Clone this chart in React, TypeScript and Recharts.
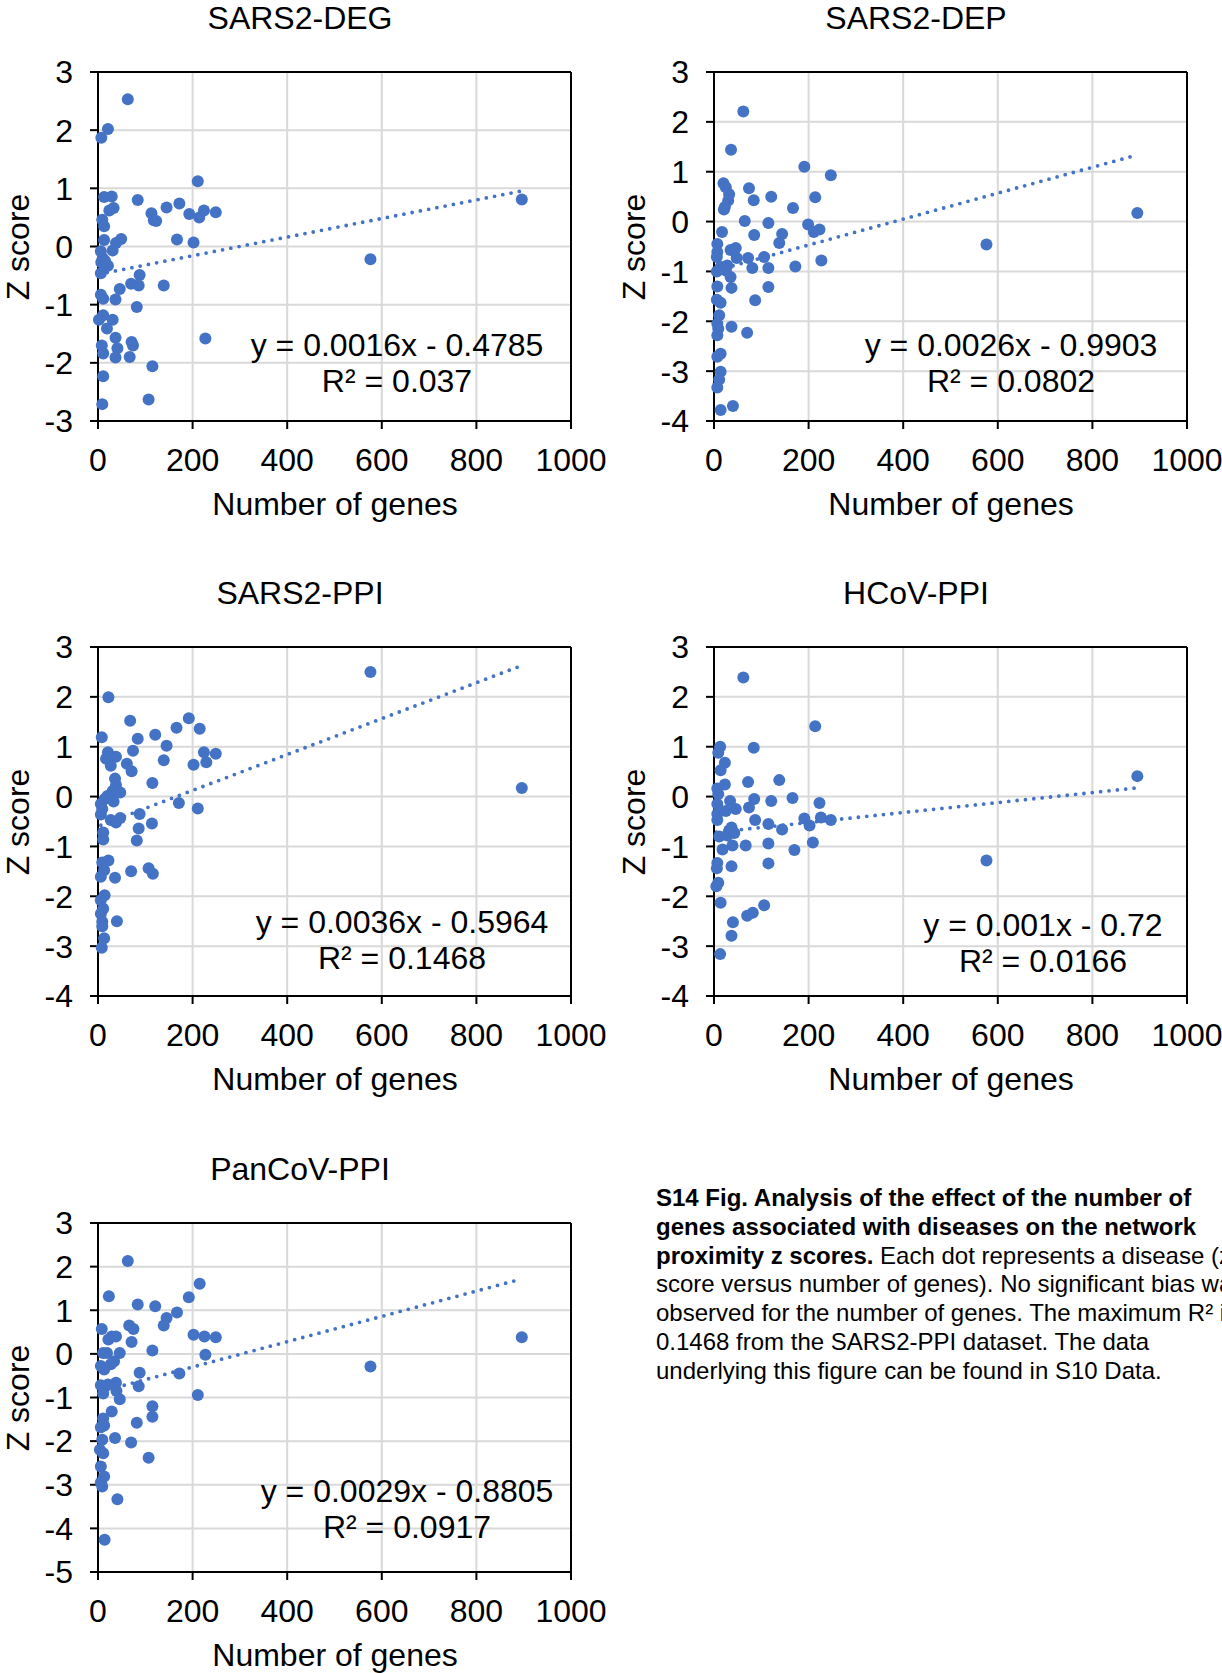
import React from 'react';
import { ScatterChart, Scatter, XAxis, YAxis, CartesianGrid, ReferenceLine } from 'recharts';

const FONT = "'Liberation Sans', Arial, sans-serif";
const BLUE = '#4472C4';
const GRID = '#d9d9d9';

const X_TICKS = [0, 200, 400, 600, 800, 1000];

// [number of genes, z score]
const degPoints = [
  [63, 2.53], [21, 2.02], [7, 1.87], [211, 1.12], [13, 0.85], [29, 0.86], [84, 0.8], [24, 0.62], [33, 0.66], [9, 0.46],
  [13, 0.35], [145, 0.67], [172, 0.74], [113, 0.57], [118, 0.45], [123, 0.44], [193, 0.56], [214, 0.5], [224, 0.62], [249, 0.59],
  [167, 0.12], [202, 0.07], [13, 0.11], [49, 0.13], [38, 0.06], [31, -0.07], [6, -0.08], [10, -0.2], [21, -0.33], [7, -0.27],
  [15, -0.25], [6, -0.46], [88, -0.49], [70, -0.64], [86, -0.67], [139, -0.67], [46, -0.73], [6, -0.83], [11, -0.9], [37, -0.91],
  [82, -1.04], [11, -1.18], [2, -1.26], [31, -1.26], [19, -1.41], [37, -1.57], [41, -1.75], [71, -1.64], [74, -1.7], [8, -1.7],
  [11, -1.84], [37, -1.91], [67, -1.9], [115, -2.06], [227, -1.58], [11, -2.23], [107, -2.63], [9, -2.71], [576, -0.22], [896, 0.81],
];

const depPoints = [
  [62, 2.21], [36, 1.44], [191, 1.1], [247, 0.93], [20, 0.77], [25, 0.69], [32, 0.55], [30, 0.42], [21, 0.24], [23, 0.29],
  [74, 0.67], [84, 0.43], [121, 0.5], [214, 0.49], [167, 0.27], [65, 0.01], [115, -0.03], [199, -0.06], [211, -0.21], [223, -0.16],
  [17, -0.21], [85, -0.27], [144, -0.25], [138, -0.43], [7, -0.45], [7, -0.61], [6, -0.71], [35, -0.57], [46, -0.53], [48, -0.73],
  [72, -0.73], [106, -0.71], [227, -0.78], [81, -0.93], [115, -0.93], [172, -0.9], [6, -1.0], [14, -0.91], [28, -0.88], [25, -0.98],
  [35, -1.11], [37, -1.33], [7, -1.3], [115, -1.31], [6, -1.57], [14, -1.63], [87, -1.58], [11, -1.88], [7, -2.05], [9, -2.15],
  [7, -2.28], [37, -2.11], [70, -2.23], [14, -2.65], [7, -2.71], [14, -3.01], [11, -3.17], [7, -3.33], [14, -3.78], [40, -3.7],
  [576, -0.46], [895, 0.17],
];

const ppiPoints = [
  [22, 1.99], [68, 1.52], [8, 1.19], [84, 1.16], [121, 1.24], [166, 1.38], [192, 1.57], [215, 1.36], [145, 1.02], [74, 0.92],
  [139, 0.73], [224, 0.89], [249, 0.86], [229, 0.69], [202, 0.64], [21, 0.89], [38, 0.8], [17, 0.76], [27, 0.62], [61, 0.66],
  [71, 0.51], [36, 0.36], [38, 0.23], [115, 0.27], [31, 0.11], [47, 0.08], [20, 0.01], [14, -0.05], [33, -0.1], [6, -0.15],
  [9, -0.25], [6, -0.36], [171, -0.13], [211, -0.24], [88, -0.35], [27, -0.47], [47, -0.43], [38, -0.52], [86, -0.64], [114, -0.54],
  [82, -0.88], [11, -0.72], [11, -0.86], [9, -1.32], [22, -1.28], [13, -1.48], [6, -1.61], [36, -1.63], [70, -1.5], [107, -1.44],
  [116, -1.55], [14, -1.98], [6, -2.08], [11, -2.25], [6, -2.35], [9, -2.51], [9, -2.6], [40, -2.5], [13, -2.84], [8, -3.03],
  [576, 2.5], [896, 0.17],
];

const hcovPoints = [
  [62, 2.39], [214, 1.41], [13, 1.0], [9, 0.88], [84, 0.98], [23, 0.68], [14, 0.53], [72, 0.29], [138, 0.33], [23, 0.24],
  [7, 0.16], [9, 0.05], [34, -0.09], [85, -0.05], [121, -0.09], [166, -0.03], [223, -0.13], [46, -0.25], [74, -0.22], [7, -0.15],
  [7, -0.35], [25, -0.29], [7, -0.47], [87, -0.47], [115, -0.55], [191, -0.44], [202, -0.58], [226, -0.42], [247, -0.47], [144, -0.66],
  [37, -0.62], [32, -0.68], [11, -0.8], [28, -0.78], [43, -0.73], [39, -0.98], [18, -1.06], [67, -0.98], [115, -0.94], [170, -1.07],
  [209, -0.92], [7, -1.33], [6, -1.44], [37, -1.4], [115, -1.34], [9, -1.73], [5, -1.8], [14, -2.13], [106, -2.18], [82, -2.33],
  [70, -2.39], [40, -2.52], [37, -2.79], [13, -3.16], [576, -1.28], [895, 0.41],
];

const pancovPoints = [
  [63, 2.13], [215, 1.61], [23, 1.32], [192, 1.3], [84, 1.13], [121, 1.09], [167, 0.95], [145, 0.82], [139, 0.65], [8, 0.57],
  [66, 0.65], [75, 0.57], [71, 0.27], [22, 0.33], [29, 0.4], [38, 0.4], [202, 0.44], [225, 0.4], [249, 0.38], [115, 0.08],
  [227, -0.02], [11, 0.02], [19, 0.02], [46, 0.02], [34, -0.17], [27, -0.24], [6, -0.28], [13, -0.36], [88, -0.43], [172, -0.45],
  [38, -0.66], [6, -0.72], [21, -0.7], [86, -0.74], [11, -0.91], [39, -0.85], [46, -1.04], [211, -0.94], [29, -1.32], [115, -1.2],
  [115, -1.44], [82, -1.58], [11, -1.48], [6, -1.68], [13, -1.64], [36, -1.93], [70, -2.03], [9, -1.97], [4, -2.2], [11, -2.28],
  [107, -2.38], [6, -2.58], [13, -2.81], [6, -2.95], [9, -3.04], [41, -3.33], [14, -4.26], [576, -0.29], [896, 0.38],
];

const titles = ['SARS2-DEG', 'SARS2-DEP', 'SARS2-PPI', 'HCoV-PPI', 'PanCoV-PPI'];
const slopes = [0.0016, 0.0026, 0.0036, 0.001, 0.0029];
const intercepts = [-0.4785, -0.9903, -0.5964, -0.72, -0.8805];
const equations = ['y = 0.0016x - 0.4785', 'y = 0.0026x - 0.9903', 'y = 0.0036x - 0.5964', 'y = 0.001x - 0.72', 'y = 0.0029x - 0.8805'];
const r2Labels = ['R² = 0.037', 'R² = 0.0802', 'R² = 0.1468', 'R² = 0.0166', 'R² = 0.0917'];
const yMins = [-3, -4, -4, -4, -5];
const allPoints = [degPoints, depPoints, ppiPoints, hcovPoints, pancovPoints];

// layout: plot-area corner in page pixels, equation offset
const layout = [
  { pl: 98, pt: 72, eqDx: 299, eqDy: 273 },
  { pl: 714, pt: 72, eqDx: 297, eqDy: 273 },
  { pl: 98, pt: 647, eqDx: 304, eqDy: 275 },
  { pl: 714, pt: 647, eqDx: 329, eqDy: 278 },
  { pl: 98, pt: 1223, eqDx: 309, eqDy: 268 },
];

const PW = 473;
const PH = 349;
const FS = 32;

const Dot = (p: any) => <circle cx={p.cx} cy={p.cy} r={6} fill={BLUE} />;

const centered = (x: number, y: number, extra?: React.CSSProperties): React.CSSProperties => ({
  position: 'absolute',
  left: x,
  top: y,
  transform: 'translate(-50%, -50%)',
  whiteSpace: 'nowrap',
  fontFamily: FONT,
  fontSize: FS,
  lineHeight: 1,
  color: '#000',
  ...extra,
});

function Panel({ idx }: { idx: number }) {
  const { pl, pt, eqDx, eqDy } = layout[idx];
  const pts = allPoints[idx];
  const data = pts.map(([x, y]) => ({ x, y }));
  const yMin = yMins[idx];
  const yTicks: number[] = [];
  for (let v = yMin; v <= 3; v++) yTicks.push(v);
  const xs = pts.map((p) => p[0]);
  const x0 = Math.min(...xs);
  const x1 = Math.max(...xs);
  const seg = [
    { x: x0, y: slopes[idx] * x0 + intercepts[idx] },
    { x: x1, y: slopes[idx] * x1 + intercepts[idx] },
  ];
  const tickStyle = { fontSize: FS, fill: '#000', fontFamily: FONT };
  const chartW = 611;
  const chartH = 560;

  return (
    <>
      <div style={{ position: 'absolute', left: pl - 98, top: pt - 72 }}>
        <ScatterChart
          width={chartW}
          height={chartH}
          margin={{ top: 72, right: chartW - 98 - PW, bottom: chartH - 72 - PH - 60, left: 38 }}
        >
          <CartesianGrid stroke={GRID} strokeWidth={2} />
          <XAxis
            type="number"
            dataKey="x"
            domain={[0, 1000]}
            ticks={X_TICKS}
            interval={0}
            height={60}
            tickSize={8}
            tickMargin={19}
            tick={tickStyle}
            axisLine={{ stroke: '#000', strokeWidth: 2 }}
            tickLine={{ stroke: '#000', strokeWidth: 2 }}
          />
          <YAxis
            type="number"
            dataKey="y"
            domain={[yMin, 3]}
            ticks={yTicks}
            interval={0}
            width={60}
            tickSize={8}
            tickMargin={17}
            tick={tickStyle}
            axisLine={{ stroke: '#000', strokeWidth: 2 }}
            tickLine={{ stroke: '#000', strokeWidth: 2 }}
          />
          <ReferenceLine y={3} stroke="#000" strokeWidth={2} />
          <ReferenceLine x={1000} stroke="#000" strokeWidth={2} />
          <Scatter data={data} isAnimationActive={false} shape={Dot} />
          <ReferenceLine
            segment={seg}
            stroke={BLUE}
            strokeWidth={3.8}
            strokeDasharray="0 8.4"
            strokeLinecap="round"
          />
        </ScatterChart>
      </div>
      <div style={centered(pl + 202, pt - 54)}>{titles[idx]}</div>
      <div style={centered(pl - 80, pt + PH / 2, { transform: 'translate(-50%, -50%) rotate(-90deg)' })}>Z score</div>
      <div style={centered(pl + 237, pt + 432)}>Number of genes</div>
      <div style={centered(pl + eqDx, pt + eqDy)}>{equations[idx]}</div>
      <div style={centered(pl + eqDx, pt + eqDy + 36)}>{r2Labels[idx]}</div>
    </>
  );
}

export default function App() {
  return (
    <div
      style={{
        position: 'absolute',
        left: 0,
        top: 0,
        width: 1222,
        height: 1673,
        overflow: 'hidden',
        background: '#fff',
      }}
    >
      {titles.map((_, i) => (
        <Panel key={i} idx={i} />
      ))}
      <div
        style={{
          position: 'absolute',
          left: 656,
          top: 1184,
          fontFamily: FONT,
          fontSize: 24,
          lineHeight: '28.8px',
          whiteSpace: 'nowrap',
          color: '#000',
        }}
      >
        <b>S14 Fig. Analysis of the effect of the number of</b>
        <br />
        <b>genes associated with diseases on the network</b>
        <br />
        <b>proximity z scores.</b> Each dot represents a disease (z
        <br />
        score versus number of genes). No significant bias was
        <br />
        observed for the number of genes. The maximum R² is
        <br />
        0.1468 from the SARS2-PPI dataset. The data
        <br />
        underlying this figure can be found in S10 Data.
      </div>
    </div>
  );
}
